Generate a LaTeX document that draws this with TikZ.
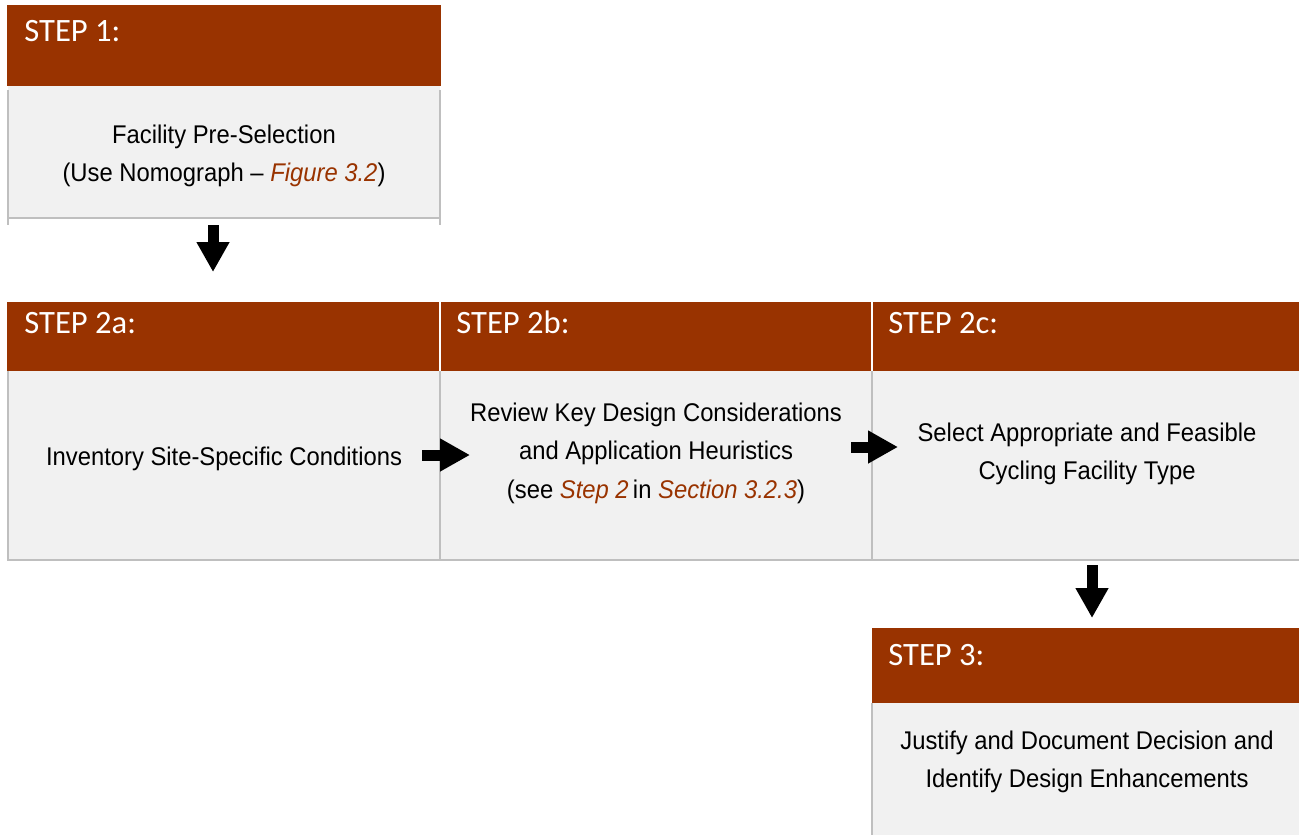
\documentclass[tikz,border=0pt]{standalone}
\usepackage{fontspec}
\setmainfont[FakeStretch=0.93]{Liberation Sans}
\newfontfamily\hdrfont{Carlito}
\usetikzlibrary{arrows.meta}
\definecolor{rust}{HTML}{993300}
\definecolor{bodygray}{HTML}{F1F1F1}
\definecolor{edgegray}{HTML}{BFBFBF}
\newcommand{\lnk}[1]{\textcolor{rust}{\itshape #1}}
\begin{document}
\begin{tikzpicture}[x=0.5pt,y=-0.5pt,
  hdrtext/.style={anchor=base west, text=white, font=\hdrfont\fontsize{16.3}{19}\selectfont, inner sep=0pt},
  bodytext/.style={align=center, font=\fontsize{12.8}{19.25}\selectfont, inner sep=0pt},
  edgeline/.style={draw=edgegray, line width=1pt},
  hdrfill/.style={fill=rust},
  bodyfill/.style={fill=bodygray},
  bigarrow/.style={line width=5.5pt, draw=black, -{Triangle[length=15pt,width=15.5pt]}}]
\useasboundingbox (0,0) rectangle (1299,835);

% ---- Step 1
\fill[hdrfill] (7,5) rectangle (441,86);
\fill[bodyfill] (8,86) rectangle (440,218);
\draw[edgeline] (8,90) -- (8,225);
\draw[edgeline] (440,90) -- (440,225);
\draw[edgeline] (8,218) -- (440,218);
\node[hdrtext] (h1) at (24,41) {STEP 1:};
\node[bodytext] (t1) at (224,156) {Facility Pre-Selection\\(Use Nomograph -- \lnk{Figure 3.2})};

% ---- Step 2 row
\fill[hdrfill] (7,302) rectangle (439,371);
\fill[hdrfill] (441,302) rectangle (871,371);
\fill[hdrfill] (873,302) rectangle (1299,371);
\fill[bodyfill] (8,371) rectangle (1299,560);
\draw[edgeline] (8,371) -- (8,561);
\draw[edgeline] (440,371) -- (440,561);
\draw[edgeline] (872,371) -- (872,561);
\draw[edgeline] (8,560) -- (1299,560);
\node[hdrtext] (h2a) at (24,333) {STEP 2a:};
\node[hdrtext] (h2b) at (456,333) {STEP 2b:};
\node[hdrtext] (h2c) at (888,333) {STEP 2c:};
\node[bodytext] (t2a) at (224,459) {Inventory Site-Specific Conditions};
\node[bodytext] (t2b) at (656,453) {Review Key Design Considerations\\and Application Heuristics\\(see \lnk{Step 2}\,in \lnk{Section 3.2.3})};
\node[bodytext] (t2c) at (1087,454) {Select Appropriate and Feasible\\Cycling Facility Type};

% ---- Step 3
\fill[hdrfill] (872,628) rectangle (1299,703);
\fill[bodyfill] (872,703) rectangle (1299,835);
\draw[edgeline] (872,703) -- (872,835);
\node[hdrtext] (h3) at (888,665) {STEP 3:};
\node[bodytext] (t3) at (1087,762) {Justify and Document Decision and\\Identify Design Enhancements};

% ---- arrows
\coordinate (a1s) at (213,225);
\coordinate (a1e) at (213,272);
\coordinate (a2s) at (422,455);
\coordinate (a2e) at (470,455);
\coordinate (a3s) at (851,447);
\coordinate (a3e) at (898,447);
\coordinate (a4s) at (1092,565);
\coordinate (a4e) at (1092,618);
\draw[bigarrow] (a1s) -- (a1e);
\draw[bigarrow] (a2s) -- (a2e);
\draw[bigarrow] (a3s) -- (a3e);
\draw[bigarrow] (a4s) -- (a4e);
\end{tikzpicture}
\end{document}
